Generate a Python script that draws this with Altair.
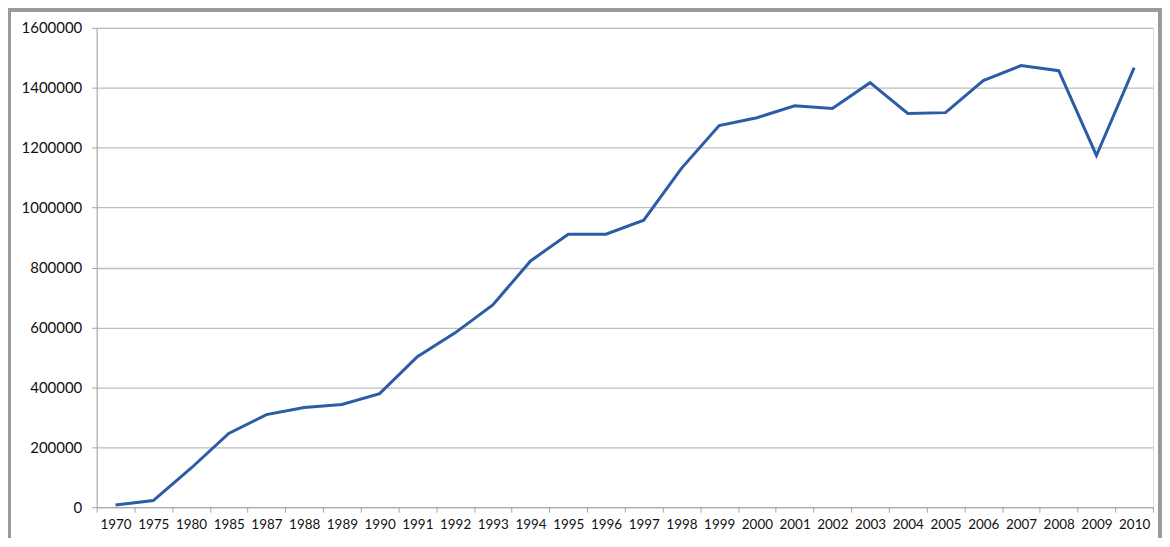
import altair as alt
import pandas as pd

years = ["1970", "1975", "1980", "1985", "1987", "1988", "1989", "1990", "1991",
         "1992", "1993", "1994", "1995", "1996", "1997", "1998", "1999", "2000",
         "2001", "2002", "2003", "2004", "2005", "2006", "2007", "2008", "2009", "2010"]
values = [7000, 22000, 130000, 246000, 309000, 333000, 343000, 379000, 502000,
          582000, 675000, 822000, 911000, 911000, 958000, 1131000, 1274000, 1300000,
          1340000, 1331000, 1417000, 1314000, 1317000, 1424000, 1474000, 1457000, 1174000, 1467000]

df = pd.DataFrame({"year": years, "value": values})

W, H = 1060, 481

x_enc = alt.X("year:O", sort=years, bandPosition=0.5,
              scale=alt.Scale(type="band", paddingInner=0, paddingOuter=0),
              axis=alt.Axis(title=None, labelAngle=0, tickBand="extent", grid=False,
                            domainColor="#a6a6a6", tickColor="#a6a6a6", tickSize=5,
                            labelFont="Lato", labelFontSize=13.5, labelColor="#111111",
                            labelPadding=5))
y_enc = alt.Y("value:Q", scale=alt.Scale(domain=[0, 1600000], nice=False),
              axis=alt.Axis(title=None, values=[0, 200000, 400000, 600000, 800000,
                                                1000000, 1200000, 1400000, 1600000],
                            format="d", gridColor="#bdbdbd", gridWidth=1.3,
                            domainColor="#a6a6a6", tickColor="#a6a6a6", tickSize=5,
                            labelFont="Lato", labelFontSize=15, labelColor="#111111",
                            labelPadding=10))

line = alt.Chart(df).mark_line(color="#2b5ca5", strokeWidth=3).encode(x=x_enc, y=y_enc)

frame = alt.Chart(df).mark_rect(fill=None, stroke="#9a9a9a", strokeWidth=2.5, clip=False).encode(
    x=alt.value(-88), x2=alt.value(W + 7), y=alt.value(-18), y2=alt.value(H + 60)
)

chart = alt.layer(line, frame).properties(
    width=W, height=H,
    autosize=alt.AutoSizeParams(type="none"),
    padding={"left": 89, "top": 19, "right": 9, "bottom": 30},
).configure_view(stroke=None).configure(background="white")

chart.save("out.html", embed_options={"renderer": "svg", "actions": False})
